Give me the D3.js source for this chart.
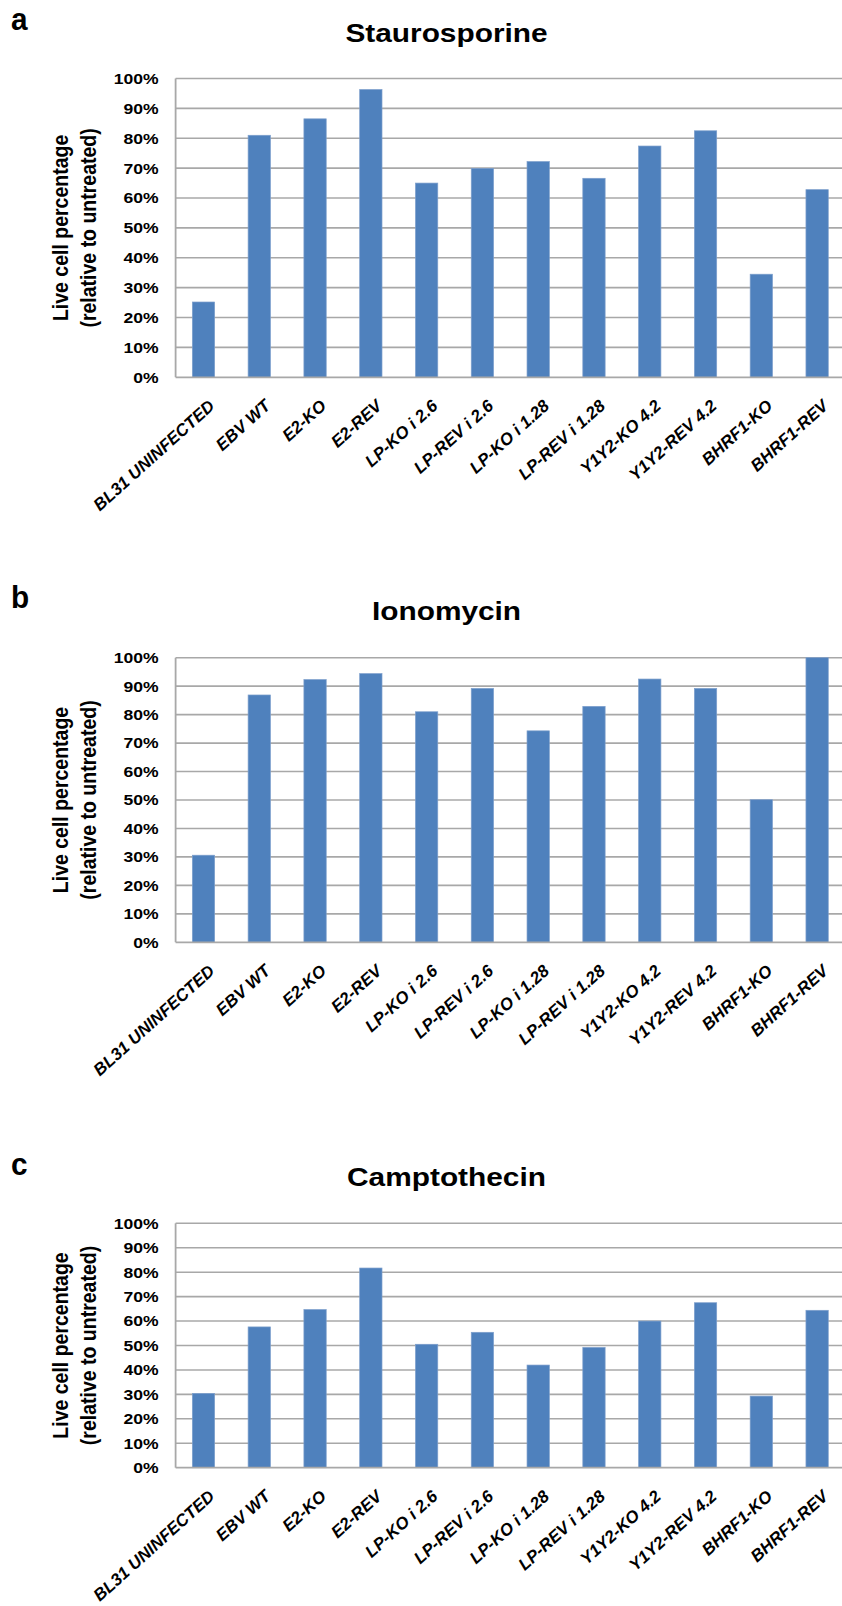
<!DOCTYPE html>
<html><head><meta charset="utf-8">
<script src="https://cdn.jsdelivr.net/npm/d3@7"></script>
<style>body{margin:0;background:#fff} svg{display:block}</style>
</head><body>
<svg id="chart" width="842" height="1606"></svg>
<script>
// ---- data ----
const categories = ["BL31 UNINFECTED","EBV WT","E2-KO","E2-REV","LP-KO i 2.6","LP-REV i 2.6","LP-KO i 1.28","LP-REV i 1.28","Y1Y2-KO 4.2","Y1Y2-REV 4.2","BHRF1-KO","BHRF1-REV"];
const staurosporine = [25.2,81.0,86.5,96.3,65.0,69.9,72.2,66.6,77.4,82.5,34.5,62.8];
const ionomycin     = [30.6,86.9,92.3,94.4,81.0,89.2,74.3,82.9,92.5,89.2,50.1,100];
const camptothecin  = [30.4,57.6,64.7,81.7,50.5,55.4,42.0,49.2,60.0,67.5,29.3,64.4];
const yTicks = [0,10,20,30,40,50,60,70,80,90,100];
const panelLetters = ["a","b","c"];
const panelTitles = ["Staurosporine","Ionomycin","Camptothecin"];
const yTitleLines = ["Live cell percentage","(relative to untreated)"];
const seriesList = [staurosporine, ionomycin, camptothecin];

// ---- layout ----
const layout = [
  {letterY:30,    titleY:41.7,  top:78.5,   bottom:377.3},
  {letterY:607.7, titleY:620.4, top:657.7,  bottom:942.3},
  {letterY:1175,  titleY:1186,  top:1223.3, bottom:1467.7}
];
const plotLeft = 175.6, plotRight = 845;
const stretch = 1.17;
const barColor = "#4F81BD";
const gridColor = "#a8a8a8";
const FONT = "'Liberation Sans', Arial, Helvetica, sans-serif";

const svg = d3.select("#chart");

const x = d3.scaleBand().domain(categories).range([plotLeft, plotRight])
  .paddingInner(0.6).paddingOuter(0.3);

seriesList.forEach((vals, i) => {
  const L = layout[i];
  const g = svg.append("g");
  const y = d3.scaleLinear().domain([0,100]).range([L.bottom, L.top]);
  const data = categories.map((c,j)=>({c, v: vals[j]}));

  // panel letter
  g.append("g").attr("transform", `translate(11,${L.letterY}) scale(0.93,1)`)
    .append("text")
    .attr("font-family", FONT)
    .attr("font-weight", "bold").attr("font-size", 32)
    .attr("fill", "#000")
    .text(panelLetters[i]);

  // title
  g.append("g").attr("transform", `translate(446.5,${L.titleY}) scale(${stretch},1)`)
    .append("text")
    .attr("text-anchor", "middle")
    .attr("font-family", FONT).attr("font-weight", "bold").attr("font-size", 25.5)
    .attr("fill", "#000")
    .text(panelTitles[i]);

  // gridlines
  g.append("g").selectAll("line").data(yTicks.filter(t => t > 0)).join("line")
    .attr("x1", plotLeft).attr("x2", plotRight)
    .attr("y1", d => y(d)).attr("y2", d => y(d))
    .attr("stroke", gridColor).attr("stroke-width", 1.6);

  // bars
  g.append("g").selectAll("rect").data(data).join("rect")
    .attr("x", d => x(d.c)).attr("width", x.bandwidth())
    .attr("y", d => y(d.v)).attr("height", d => y(0) - y(d.v))
    .attr("fill", barColor)
    .attr("stroke", "#7d9fcc").attr("stroke-width", 0.7);

  // axes lines
  g.append("line").attr("x1", plotLeft).attr("x2", plotRight)
    .attr("y1", y(0)).attr("y2", y(0))
    .attr("stroke", gridColor).attr("stroke-width", 1.8);
  g.append("line").attr("x1", plotLeft).attr("x2", plotLeft)
    .attr("y1", y(0)).attr("y2", y(100))
    .attr("stroke", gridColor).attr("stroke-width", 1.8);

  // y tick labels
  const fmt = d => d + "%";
  g.append("g").selectAll("g").data(yTicks).join("g")
    .attr("transform", d => `translate(158.5,${y(d)}) scale(${stretch},1)`)
    .append("text")
    .attr("text-anchor", "end").attr("dy", "0.36em")
    .attr("font-family", FONT).attr("font-weight", "bold").attr("font-size", 15)
    .attr("fill", "#000")
    .text(fmt);

  // x category labels
  g.append("g").selectAll("text").data(categories).join("text")
    .attr("transform", d => `translate(${x(d) + x.bandwidth()/2 + 4},${y(0) + 21}) rotate(-42)`)
    .attr("text-anchor", "end").attr("dy", "0.72em")
    .attr("font-family", FONT).attr("font-weight", "bold").attr("font-style", "italic")
    .attr("font-size", 17).attr("fill", "#000")
    .text(d => d);

  // y axis title
  const midY = (L.top + L.bottom) / 2;
  const lineXs = [68, 96];
  yTitleLines.forEach((t, k) => {
    g.append("g").attr("transform", `translate(${lineXs[k]},${midY}) scale(${stretch},1) rotate(-90)`)
      .append("text")
      .attr("text-anchor", "middle")
      .attr("font-family", FONT).attr("font-weight", "bold").attr("font-size", 19.5)
      .attr("fill", "#000")
      .text(t);
  });
});
</script>
</body></html>
